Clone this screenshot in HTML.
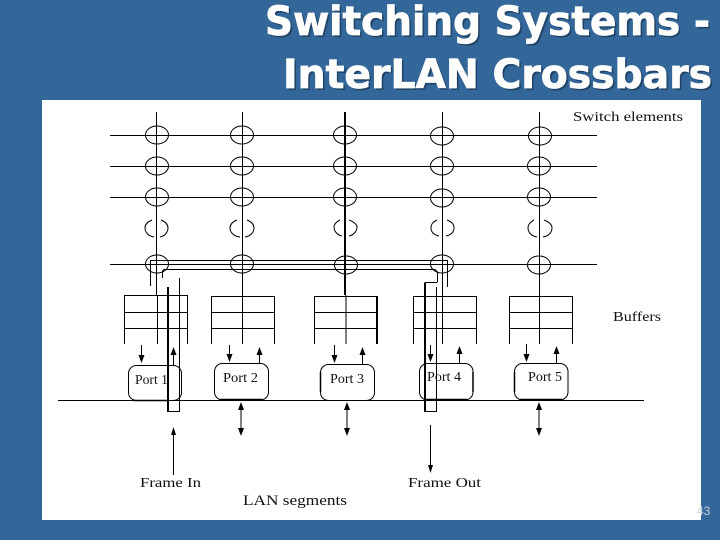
<!DOCTYPE html>
<html>
<head>
<meta charset="utf-8">
<style>
html,body{margin:0;padding:0;background:#336699;width:720px;height:540px;overflow:hidden}
svg{display:block}
.t{font-family:"DejaVu Sans","Liberation Sans",sans-serif;font-weight:bold;font-size:40px;fill:#fff;stroke:#fff;stroke-width:.8px}
.s{font-family:"DejaVu Sans","Liberation Sans",sans-serif;font-weight:bold;font-size:40px;fill:#1c3a58;opacity:.75}
.l{font-family:"Liberation Serif",serif;font-size:14px;fill:#111}
</style>
</head>
<body>
<svg width="720" height="540" viewBox="0 0 720 540" xmlns="http://www.w3.org/2000/svg">
<rect width="720" height="540" fill="#336699"/>
<text class="s" x="267" y="37" textLength="445" lengthAdjust="spacingAndGlyphs">Switching Systems -</text>
<text class="s" x="285" y="90" textLength="429" lengthAdjust="spacingAndGlyphs">InterLAN Crossbars</text>
<text class="t" x="265" y="35" textLength="445" lengthAdjust="spacingAndGlyphs">Switching Systems -</text>
<text class="t" x="283" y="88" textLength="429" lengthAdjust="spacingAndGlyphs">InterLAN Crossbars</text>
<rect x="42" y="100" width="659" height="420" fill="#fff"/>
<text x="697" y="515" font-family="Liberation Sans,sans-serif" font-size="12" fill="#c4d0dc">43</text>

<g stroke="#000" stroke-width="1" fill="none">
<!-- horizontals -->
<path d="M110 135.5H597M110 166.5H597M110 197.5H597M110 264.5H597"/>
<!-- verticals -->
<path d="M156.5 112V295M242.5 112V344M442.5 112V344M539.5 112V344"/>
<path d="M345 112V295" stroke-width="2"/>
<path d="M346 295V344"/>
<path d="M157.500 296V344"/>
<!-- ellipses -->
<g>
<ellipse cx="157" cy="135" rx="11.5" ry="9"/><ellipse cx="242" cy="135" rx="11.5" ry="9"/><ellipse cx="345" cy="135" rx="11.5" ry="9"/><ellipse cx="442" cy="136" rx="11.5" ry="9"/><ellipse cx="540" cy="136" rx="11.5" ry="9"/>
<ellipse cx="157" cy="166" rx="11.5" ry="9"/><ellipse cx="242" cy="166" rx="11.5" ry="9"/><ellipse cx="345" cy="166" rx="11.5" ry="9"/><ellipse cx="442" cy="166" rx="11.5" ry="9"/><ellipse cx="539" cy="166" rx="11.5" ry="9"/>
<ellipse cx="157" cy="197" rx="11.5" ry="9"/><ellipse cx="242" cy="197" rx="11.5" ry="9"/><ellipse cx="345" cy="197" rx="11.5" ry="9"/><ellipse cx="442" cy="198" rx="11.5" ry="9"/><ellipse cx="539" cy="197" rx="11.5" ry="9"/>
<ellipse cx="157" cy="264" rx="11.5" ry="9"/><ellipse cx="242" cy="264" rx="11.5" ry="9"/><ellipse cx="346" cy="265" rx="11.5" ry="9"/><ellipse cx="442" cy="264" rx="11.5" ry="9"/><ellipse cx="539" cy="265" rx="11.5" ry="9"/>
</g>
<!-- broken ellipses -->
<path d="M152 220C147 222 145 225 145 228C145 232 148 236 154 237M161 220C166 222 168 225 168 228C168 232 165 236 160 237"/>
<path d="M237 220C232 222 230 225 230 228C230 232 233 236 240 237M247 220C252 222 254 225 254 228C254 232 251 236 245 237"/>
<path d="M340 220C336 222 334 224 334 227C334 231 337 235 342 236M349 220C354 222 357 224 357 227C357 231 354 235 349 236"/>
<path d="M437 220C433 222 431 224 431 228C431 232 434 235 439 236M447 220C452 222 454 224 454 228C454 232 451 235 446 236"/>
<path d="M534 220C530 222 528 225 528 228C528 232 531 236 537 237M544 220C549 222 552 225 552 228C552 232 549 236 543 237"/>
<!-- buffers -->
<path d="M124.500 344V295.500H187.500V344M124.500 312.500H187.500M124.500 328.500H187.500"/>
<path d="M211.500 344V296.500H274.500V344M211.500 312.500H274.500M211.500 328.500H274.500"/>
<path d="M314.500 344V296.500H377V344M314.500 312.500H377M314.500 328.500H377"/>
<path d="M377 296V344" stroke-width="2"/>
<path d="M413.500 344V296.500H476.500V344M413.500 312.500H476.500M413.500 328.500H476.500"/>
<path d="M509.500 344V296.500H572.500V344M509.500 312.500H572.500M509.500 328.500H572.500"/>
<!-- frame path -->
<path d="M150.500 286V260.500H447.500V287"/>
<path d="M162.500 278V271L164 269.500H435L437.500 272V282"/>
<path d="M168 287V412M425 282.500V412" stroke-width="2"/>
<path d="M425 282.500H437.500"/>
<path d="M179.500 278V411.500H168M436.500 287V411.500H425"/>
<!-- ports -->
<rect x="128.500" y="365.500" width="53" height="35" rx="8"/>
<rect x="214.500" y="363.500" width="54" height="36.500" rx="8"/>
<rect x="320.500" y="364.500" width="54" height="36" rx="8"/>
<rect x="419.500" y="363.500" width="53.500" height="36.500" rx="8"/>
<rect x="514.500" y="363.500" width="53.500" height="36.500" rx="8"/>
<path d="M134 400.500H168M220 399.500H262M426 399.500H467M520 399.500H562" stroke-width="1.500"/>
<path d="M320.500 372V392M473 372V392M514.500 372V392" stroke-width="1.500"/>
<!-- bus -->
<path d="M58 400.500H644"/>
<!-- arrow shafts -->
<path d="M141.500 345V360M173.500 365V350M229.500 345V360M259.500 363V350M334.500 345V360M362.500 364V350M430.500 345V360M459.500 363V349M526.500 344V360M556.500 363V349"/>
<path d="M241 405V433M347 405V433M539 405V433M173.500 475V430M430.500 425V470"/>
</g>
<!-- arrowheads -->
<path fill="#000" d="M141.500 363l-3-8h6zM229.500 362l-3-8h6zM334.500 363l-3-8h6zM430.500 362l-3-8h6zM526.500 362l-3-8h6z
M173.500 347l-3 8h6zM259.500 347l-3 8h6zM362.500 347l-3 8h6zM459.500 346l-3 8h6zM556.500 346l-3 8h6z
M241 402l-3 8h6zM347 402l-3 8h6zM539 402l-3 8h6z
M241 436l-3-8h6zM347 436l-3-8h6zM539 436l-3-8h6z
M173.500 427l-2.500 8h5zM430.500 473l-2.500-8h5z"/>

<g>
<text class="l" x="573" y="121" textLength="110" lengthAdjust="spacingAndGlyphs">Switch elements</text>
<text class="l" x="613" y="321" textLength="48" lengthAdjust="spacingAndGlyphs">Buffers</text>
<text class="l" x="135" y="384" textLength="33" lengthAdjust="spacingAndGlyphs">Port 1</text>
<text class="l" x="223" y="382" textLength="35" lengthAdjust="spacingAndGlyphs">Port 2</text>
<text class="l" x="330" y="383" textLength="34" lengthAdjust="spacingAndGlyphs">Port 3</text>
<text class="l" x="427" y="381" textLength="34" lengthAdjust="spacingAndGlyphs">Port 4</text>
<text class="l" x="528" y="381" textLength="34" lengthAdjust="spacingAndGlyphs">Port 5</text>
<text class="l" x="140" y="487" textLength="61" lengthAdjust="spacingAndGlyphs">Frame In</text>
<text class="l" x="408" y="487" textLength="73" lengthAdjust="spacingAndGlyphs">Frame Out</text>
<text class="l" x="243" y="505" textLength="104" lengthAdjust="spacingAndGlyphs" style="font-size:15px">LAN segments</text>
</g>
</svg>
</body>
</html>
